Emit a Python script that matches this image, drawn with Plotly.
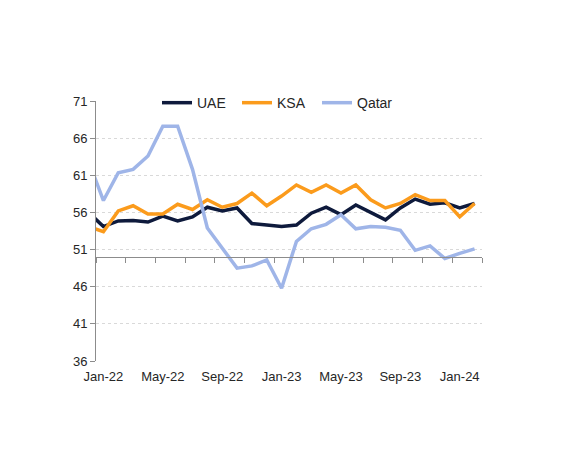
import plotly.graph_objects as go

months = ["Dec-21",
          "Jan-22", "Feb-22", "Mar-22", "Apr-22", "May-22", "Jun-22", "Jul-22", "Aug-22",
          "Sep-22", "Oct-22", "Nov-22", "Dec-22",
          "Jan-23", "Feb-23", "Mar-23", "Apr-23", "May-23", "Jun-23", "Jul-23", "Aug-23",
          "Sep-23", "Oct-23", "Nov-23", "Dec-23",
          "Jan-24", "Feb-24"]

uae = [56.0, 54.1, 54.85, 54.9, 54.7, 55.5, 54.85, 55.4, 56.7, 56.2, 56.6, 54.5, 54.3,
       54.1, 54.3, 55.9, 56.7, 55.7, 57.0, 56.0, 55.0, 56.6, 57.8, 57.1, 57.3, 56.6, 57.2]
ksa = [54.1, 53.4, 56.2, 56.9, 55.8, 55.8, 57.1, 56.4, 57.7, 56.7, 57.2, 58.6, 56.9,
       58.2, 59.7, 58.7, 59.7, 58.6, 59.7, 57.7, 56.6, 57.2, 58.4, 57.6, 57.6, 55.4, 57.2]
qatar = [62.9, 57.6, 61.35, 61.8, 63.6, 67.6, 67.6, 61.8, 53.9, 51.2, 48.5, 48.8, 49.6,
         45.8, 52.1, 53.8, 54.4, 55.7, 53.8, 54.1, 54.0, 53.6, 50.9, 51.5, 49.8, 50.5, 51.1]

tick_labels = ["Jan-22", "May-22", "Sep-22", "Jan-23", "May-23", "Sep-23", "Jan-24"]
y_ticks = [36, 41, 46, 51, 56, 61, 66, 71]
axis_cross = 50

# month index: Jan-22 = 0
x = [i - 1 for i in range(len(months))]
label_pos = [x[months.index(t)] for t in tick_labels]
minor_ticks = [k + 0.5 for k in range(-1, len(months) - 1, 2)]

colors = {"UAE": "#0e1a3c", "KSA": "#fb9b1c", "Qatar": "#9fb5e8"}

fig = go.Figure()
for name, vals in [("UAE", uae), ("KSA", ksa), ("Qatar", qatar)]:
    fig.add_trace(go.Scatter(x=x, y=vals, mode="lines", name=name,
                             line=dict(color=colors[name], width=3.5)))
# helper trace attaching the crossing axis
fig.add_trace(go.Scatter(x=[x[0]], y=[None], xaxis="x2", showlegend=False,
                         hoverinfo="skip"))

font = dict(family="Liberation Sans, Arial, sans-serif", color="#262626")

fig.update_layout(
    width=565, height=467,
    margin=dict(l=88, r=91, t=93, b=114),
    paper_bgcolor="white", plot_bgcolor="white",
    font=dict(size=13, **font),
    showlegend=True,
    legend=dict(orientation="h", x=0.158, xanchor="left", y=0.992, yanchor="middle",
                bgcolor="white", font=dict(size=14, **font),
                itemwidth=30, entrywidth=35, tracegroupgap=0),
    xaxis=dict(range=[-0.5, len(months) - 1.5], tickvals=label_pos, ticktext=tick_labels,
               showline=False, showgrid=False, zeroline=False,
               ticks="", ticklabelstandoff=6, tickfont=dict(size=13, **font)),
    xaxis2=dict(overlaying="x", matches="x", anchor="free",
                position=(axis_cross - y_ticks[0]) / (y_ticks[-1] - y_ticks[0]),
                showline=True, linecolor="#8c8c8c", linewidth=1,
                ticks="outside", ticklen=5, tickcolor="#8c8c8c",
                tickvals=minor_ticks, showticklabels=False,
                showgrid=False, zeroline=False),
    yaxis=dict(range=[y_ticks[0], y_ticks[-1]], tickvals=y_ticks,
               showline=True, linecolor="#8c8c8c", linewidth=1,
               ticks="outside", ticklen=5, tickcolor="#8c8c8c",
               showgrid=True, gridcolor="#d9d9d9", griddash="dot", gridwidth=1,
               zeroline=False, tickfont=dict(size=13, **font)),
)

fig.write_html("out.html")
